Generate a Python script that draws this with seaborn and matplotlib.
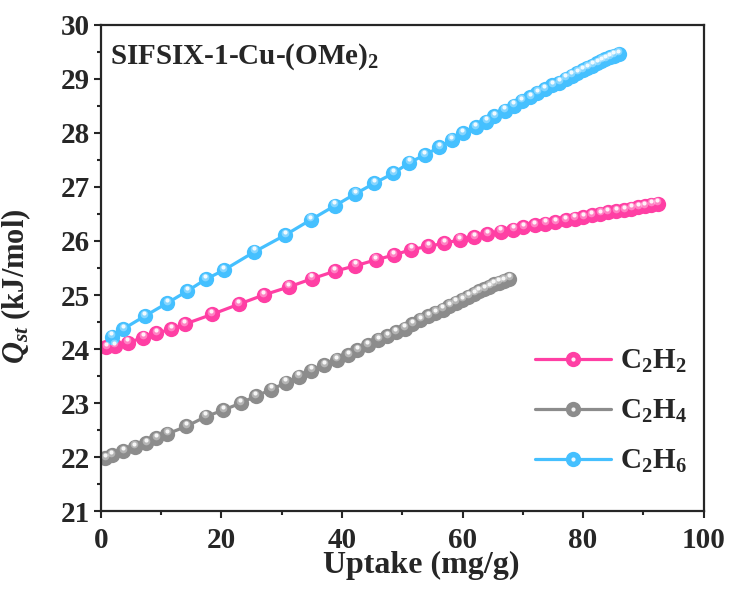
import numpy as np
import pandas as pd
import seaborn as sns
import matplotlib.pyplot as plt
from matplotlib.lines import Line2D
from matplotlib.ticker import MultipleLocator
from matplotlib.transforms import ScaledTranslation

# Isosteric heat of adsorption
c2h2_x = [0.9, 2.3, 4.5, 7.0, 9.2, 11.7, 13.9, 18.4, 22.9, 27.0, 31.2, 35.0, 38.8,
          42.2, 45.6, 48.6, 51.5, 54.3, 57.0, 59.5, 61.9, 64.1, 66.3, 68.4, 70.1,
          72.0, 73.7, 75.4, 77.1, 78.6, 80.0, 81.4, 82.8, 84.1, 85.5, 86.8, 88.0,
          89.1, 90.2, 91.3, 92.4]
c2h2_y = [24.03, 24.06, 24.12, 24.21, 24.29, 24.37, 24.46, 24.64, 24.83, 25.00,
          25.15, 25.30, 25.44, 25.54, 25.65, 25.74, 25.84, 25.90, 25.96, 26.02,
          26.07, 26.12, 26.17, 26.21, 26.25, 26.29, 26.32, 26.35, 26.38, 26.41,
          26.44, 26.48, 26.50, 26.53, 26.55, 26.57, 26.60, 26.62, 26.64, 26.67,
          26.69]

c2h4_x = [0.7, 1.8, 3.7, 5.6, 7.5, 9.2, 11.0, 14.2, 17.4, 20.3, 23.2, 25.7, 28.3,
          30.7, 32.8, 34.9, 37.1, 39.1, 41.0, 42.5, 44.3, 46.0, 47.5, 48.9, 50.4,
          51.7, 53.0, 54.3, 55.5, 56.7, 57.8, 58.9, 59.9, 60.9, 61.9, 62.7, 63.6,
          64.4, 65.2, 66.0, 66.8, 67.7]
c2h4_y = [21.98, 22.04, 22.11, 22.19, 22.26, 22.35, 22.43, 22.57, 22.75, 22.87,
          23.00, 23.13, 23.25, 23.38, 23.49, 23.60, 23.70, 23.80, 23.89, 23.98,
          24.07, 24.17, 24.24, 24.31, 24.38, 24.46, 24.54, 24.61, 24.67, 24.73,
          24.80, 24.86, 24.91, 24.97, 25.02, 25.07, 25.11, 25.15, 25.20, 25.23,
          25.26, 25.30]

c2h6_x = [1.8, 3.7, 7.3, 11.0, 14.3, 17.4, 20.4, 25.5, 30.6, 34.8, 38.8, 42.2,
          45.4, 48.5, 51.2, 53.7, 56.1, 58.2, 60.0, 62.2, 63.9, 65.3, 67.0, 68.5,
          69.8, 71.2, 72.4, 73.6, 74.9, 76.0, 77.1, 78.1, 79.0, 79.9, 80.7, 81.5,
          82.3, 83.0, 83.7, 84.4, 85.1, 85.9]
c2h6_y = [24.23, 24.37, 24.61, 24.85, 25.07, 25.29, 25.46, 25.80, 26.11, 26.39,
          26.65, 26.87, 27.07, 27.25, 27.45, 27.59, 27.73, 27.87, 27.99, 28.10,
          28.21, 28.31, 28.41, 28.50, 28.59, 28.66, 28.74, 28.81, 28.88, 28.93,
          29.00, 29.06, 29.11, 29.16, 29.20, 29.24, 29.29, 29.33, 29.36, 29.40,
          29.43, 29.46]

gases = ['C$_\\mathrm{2}$H$_\\mathrm{2}$', 'C$_\\mathrm{2}$H$_\\mathrm{4}$',
         'C$_\\mathrm{2}$H$_\\mathrm{6}$']
colors = ['#FF3FA4', '#8C8C8C', '#45C0FF']

df = pd.concat([
    pd.DataFrame({'uptake': c2h2_x, 'qst': c2h2_y, 'gas': gases[0]}),
    pd.DataFrame({'uptake': c2h4_x, 'qst': c2h4_y, 'gas': gases[1]}),
    pd.DataFrame({'uptake': c2h6_x, 'qst': c2h6_y, 'gas': gases[2]}),
], ignore_index=True)

sns.set_style('ticks')
plt.rcParams['font.family'] = ['Liberation Serif', 'DejaVu Serif']
plt.rcParams['font.weight'] = 'bold'
plt.rcParams['mathtext.fontset'] = 'custom'
plt.rcParams['mathtext.rm'] = 'Liberation Serif:bold'
plt.rcParams['mathtext.it'] = 'Liberation Serif:bold:italic'
plt.rcParams['mathtext.bf'] = 'Liberation Serif:bold'

fig = plt.figure(figsize=(7.3, 5.89), dpi=100)
ax = fig.add_axes([0.138, 0.132, 0.826, 0.826])

ms = 11
sns.lineplot(data=df, x='uptake', y='qst', hue='gas', palette=colors,
             estimator=None, sort=False, marker='o', markersize=ms,
             markeredgewidth=0, linewidth=2.3, legend=False, ax=ax)

# glossy highlight on each sphere (soft halo + bright spot, shifted up)
halo = ax.transData + ScaledTranslation(-0.3 / 72, 1.8 / 72, fig.dpi_scale_trans)
spot = ax.transData + ScaledTranslation(-0.3 / 72, 2.4 / 72, fig.dpi_scale_trans)
for g in gases:
    sub = df[df['gas'] == g]
    ax.plot(sub['uptake'], sub['qst'], ls='none', marker='o', markersize=5.5,
            markerfacecolor='white', markeredgewidth=0, alpha=0.35,
            transform=halo)
    ax.plot(sub['uptake'], sub['qst'], ls='none', marker='o', markersize=3,
            markerfacecolor='white', markeredgewidth=0, alpha=0.9,
            transform=spot)

ax.set_xlim(0, 100)
ax.set_ylim(21, 30)
ax.xaxis.set_major_locator(MultipleLocator(20))
ax.xaxis.set_minor_locator(MultipleLocator(10))
ax.yaxis.set_major_locator(MultipleLocator(1))
ax.yaxis.set_minor_locator(MultipleLocator(0.5))
ax.tick_params(which='major', direction='out', length=5, width=1.5,
               labelsize=21, pad=3, top=False, right=False)
ax.tick_params(axis='x', which='major', pad=6)
ax.tick_params(which='minor', direction='out', length=3, width=1.5,
               top=False, right=False)
for s in ax.spines.values():
    s.set_linewidth(1.6)
    s.set_visible(True)

ax.set_xlabel('Uptake (mg/g)', fontsize=23, fontweight='bold')
ax.xaxis.set_label_coords(0.532, -0.082)
ax.set_ylabel('$Q_{st}$ (kJ/mol)', fontsize=22, fontweight='bold')
ax.yaxis.set_label_coords(-0.113, 0.463)

ax.text(0.015, 0.965, 'SIFSIX-1-Cu-(OMe)$_\\mathrm{2}$', transform=ax.transAxes,
        fontsize=21, fontweight='bold', va='top', ha='left')

handles = [(Line2D([], [], color=c, lw=2.3, marker='o', markersize=ms,
                   markeredgewidth=0),
            Line2D([], [], ls='none', marker='o', markersize=3,
                   markerfacecolor='white', markeredgewidth=0, alpha=0.9))
           for c in colors]
ax.legend(handles, gases, loc='lower right', bbox_to_anchor=(1.015, 0.02),
          frameon=False, fontsize=21, handlelength=2.6, labelspacing=0.78,
          handletextpad=0.3)

fig.savefig('out.png', dpi=100)
